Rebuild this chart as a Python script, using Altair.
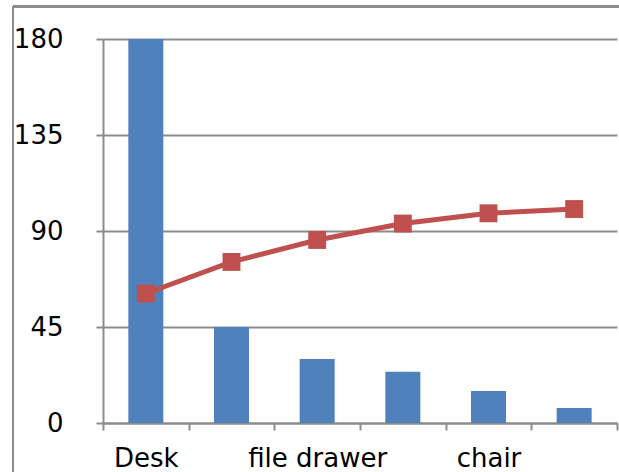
import altair as alt
import pandas as pd

categories = ["Desk", "cabinet", "file drawer", "shelf", "chair", "lamp"]
shown_labels = ["Desk", "file drawer", "chair"]
counts = [180, 45, 30, 24, 15, 7]
cumulative = [60.7, 75.5, 85.8, 93.5, 98.3, 100.3]
y_ticks = [0, 45, 90, 135, 180]

df = pd.DataFrame({"cat": categories, "count": counts, "cum": cumulative})

GRAY = "#8c8c8c"
FONT = "DejaVu Sans"

x_enc = alt.X(
    "cat:N",
    sort=categories,
    scale=alt.Scale(paddingInner=0, paddingOuter=0),
    axis=alt.Axis(
        title=None,
        labelAngle=0,
        tickBand="extent",
        tickSize=7,
        tickWidth=2,
        tickColor=GRAY,
        domainColor=GRAY,
        domainWidth=2,
        labelFont=FONT,
        labelFontSize=26,
        labelColor="black",
        labelPadding=15,
        labelExpr="indexof(" + str(shown_labels) + ", datum.value) >= 0 ? datum.value : ''",
        grid=False,
    ),
)

y_scale = alt.Scale(domain=[0, 180], nice=False)
y_axis = alt.Axis(
    title=None,
    values=y_ticks,
    grid=True,
    gridColor=GRAY,
    gridWidth=2,
    tickSize=7,
    tickWidth=2,
    tickColor=GRAY,
    domainColor=GRAY,
    domainWidth=2,
    labelFont=FONT,
    labelFontSize=26,
    labelColor="black",
    labelPadding=33,
)

bars = alt.Chart(df).mark_bar(color="#4F81BD", size=35).encode(
    x=x_enc,
    y=alt.Y("count:Q", scale=y_scale, axis=y_axis),
)

line = alt.Chart(df).mark_line(color="#C0504D", strokeWidth=5).encode(
    x=alt.X("cat:N", sort=categories),
    y=alt.Y("cum:Q", scale=y_scale),
)

points = alt.Chart(df).mark_point(
    shape="square", filled=True, size=320, color="#C0504D", opacity=1
).encode(
    x=alt.X("cat:N", sort=categories),
    y=alt.Y("cum:Q", scale=y_scale),
)

frame_top = alt.Chart(df).mark_rule(color=GRAY, strokeWidth=2).encode(
    x=alt.value(-90), x2=alt.value(520), y=alt.value(-32.5)
)
frame_left = alt.Chart(df).mark_rule(color=GRAY, strokeWidth=2).encode(
    x=alt.value(-90), y=alt.value(-32.5), y2=alt.value(440)
)

chart = alt.layer(bars, line, points, frame_top, frame_left).properties(
    width=514,
    height=384,
    autosize=alt.AutoSizeParams(type="none"),
    padding={"left": 103, "top": 39, "right": 2, "bottom": 49},
    background="white",
).configure_view(stroke=None)

chart.save("out.html", embed_options={"renderer": "svg", "actions": False})
